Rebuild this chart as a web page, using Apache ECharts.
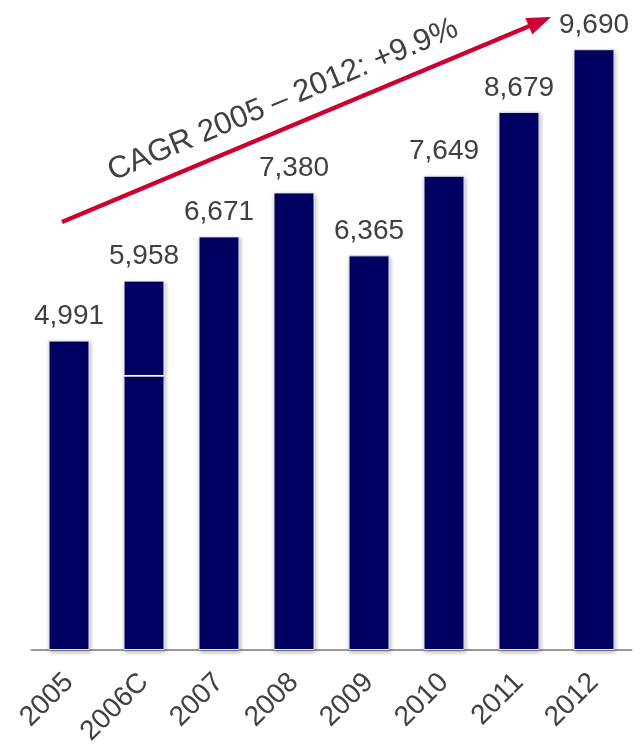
<!DOCTYPE html>
<html>
<head>
<meta charset="utf-8">
<script src="https://cdn.jsdelivr.net/npm/echarts@6/dist/echarts.min.js"></script>
<style>
  html, body { margin: 0; padding: 0; background: #ffffff; }
  #chart { width: 641px; height: 755px; }
</style>
</head>
<body>
<div id="chart"></div>
<script>
// Yearly totals, 2005–2012
const categories = ['2005', '2006C', '2007', '2008', '2009', '2010', '2011', '2012'];
const totals = [4991, 5958, 6671, 7380, 6365, 7649, 8679, 9690];
// 2006C is split into two segments; this is the lower part
const splitIndex = 1;
const splitLower = 4420;
const cagrText = 'CAGR 2005 \u2013 2012: +9.9%';

const lower = totals.map((v, i) => (i === splitIndex ? splitLower : v));
const upper = totals.map((v, i) => (i === splitIndex ? v - splitLower : null));

const fmt = n => n.toLocaleString('en-US');
const navy = '#000062';
const textColor = '#404040';
const font = '"Liberation Sans", Arial, sans-serif';

const barStyle = {
  color: navy,
  borderColor: '#e4e4ee',
  borderWidth: 1,
  shadowBlur: 4,
  shadowColor: 'rgba(0,0,0,0.28)',
  shadowOffsetX: 1,
  shadowOffsetY: 2
};

const labelStyle = {
  show: true,
  position: 'top',
  distance: 10,
  fontSize: 28,
  color: textColor,
  fontFamily: font
};

const chart = echarts.init(document.getElementById('chart'), null, { renderer: 'canvas' });

// Arrow geometry for the growth annotation
const ax0 = 62, ay0 = 222, ax1 = 551, ay1 = 17;
const ang = Math.atan2(ay0 - ay1, ax1 - ax0);
const headLen = 24, headHalf = 9;
const ux = Math.cos(ang), uy = -Math.sin(ang);
const bx = ax1 - ux * headLen, by = ay1 - uy * headLen;
const px = -uy, py = ux;

chart.setOption({
  animation: false,
  backgroundColor: '#ffffff',
  grid: { left: 31.5, right: 9.5, top: 30, bottom: 105, containLabel: false },
  xAxis: {
    type: 'category',
    data: categories,
    axisLine: { show: true, lineStyle: { color: '#999999', width: 2 } },
    axisTick: { show: false },
    axisLabel: {
      rotate: 45,
      margin: 28,
      fontSize: 28,
      color: textColor,
      fontFamily: font,
      interval: 0
    }
  },
  yAxis: {
    type: 'value',
    min: 0,
    max: 10000,
    show: false,
    splitLine: { show: false }
  },
  series: [
    {
      type: 'bar',
      stack: 'total',
      barWidth: 41,
      data: lower,
      itemStyle: barStyle,
      label: Object.assign({}, labelStyle, {
        formatter: p => (p.dataIndex === splitIndex ? '' : fmt(totals[p.dataIndex]))
      })
    },
    {
      type: 'bar',
      stack: 'total',
      barWidth: 41,
      data: upper,
      itemStyle: Object.assign({}, barStyle, { borderColor: '#ffffff' }),
      label: Object.assign({}, labelStyle, {
        formatter: p => fmt(totals[p.dataIndex])
      })
    }
  ],
  graphic: [
    {
      type: 'line',
      shape: { x1: ax0, y1: ay0, x2: bx + ux * 2, y2: by + uy * 2 },
      style: { stroke: '#cc0033', lineWidth: 4.5 }
    },
    {
      type: 'polygon',
      shape: {
        points: [[ax1, ay1], [bx + px * headHalf, by + py * headHalf], [bx - px * headHalf, by - py * headHalf]]
      },
      style: { fill: '#cc0033' }
    },
    {
      type: 'text',
      x: 283,
      y: 100,
      rotation: ang,
      style: {
        text: cagrText,
        fontSize: 31,
        fill: textColor,
        fontFamily: font,
        align: 'center',
        verticalAlign: 'middle'
      }
    }
  ]
});
</script>
</body>
</html>
